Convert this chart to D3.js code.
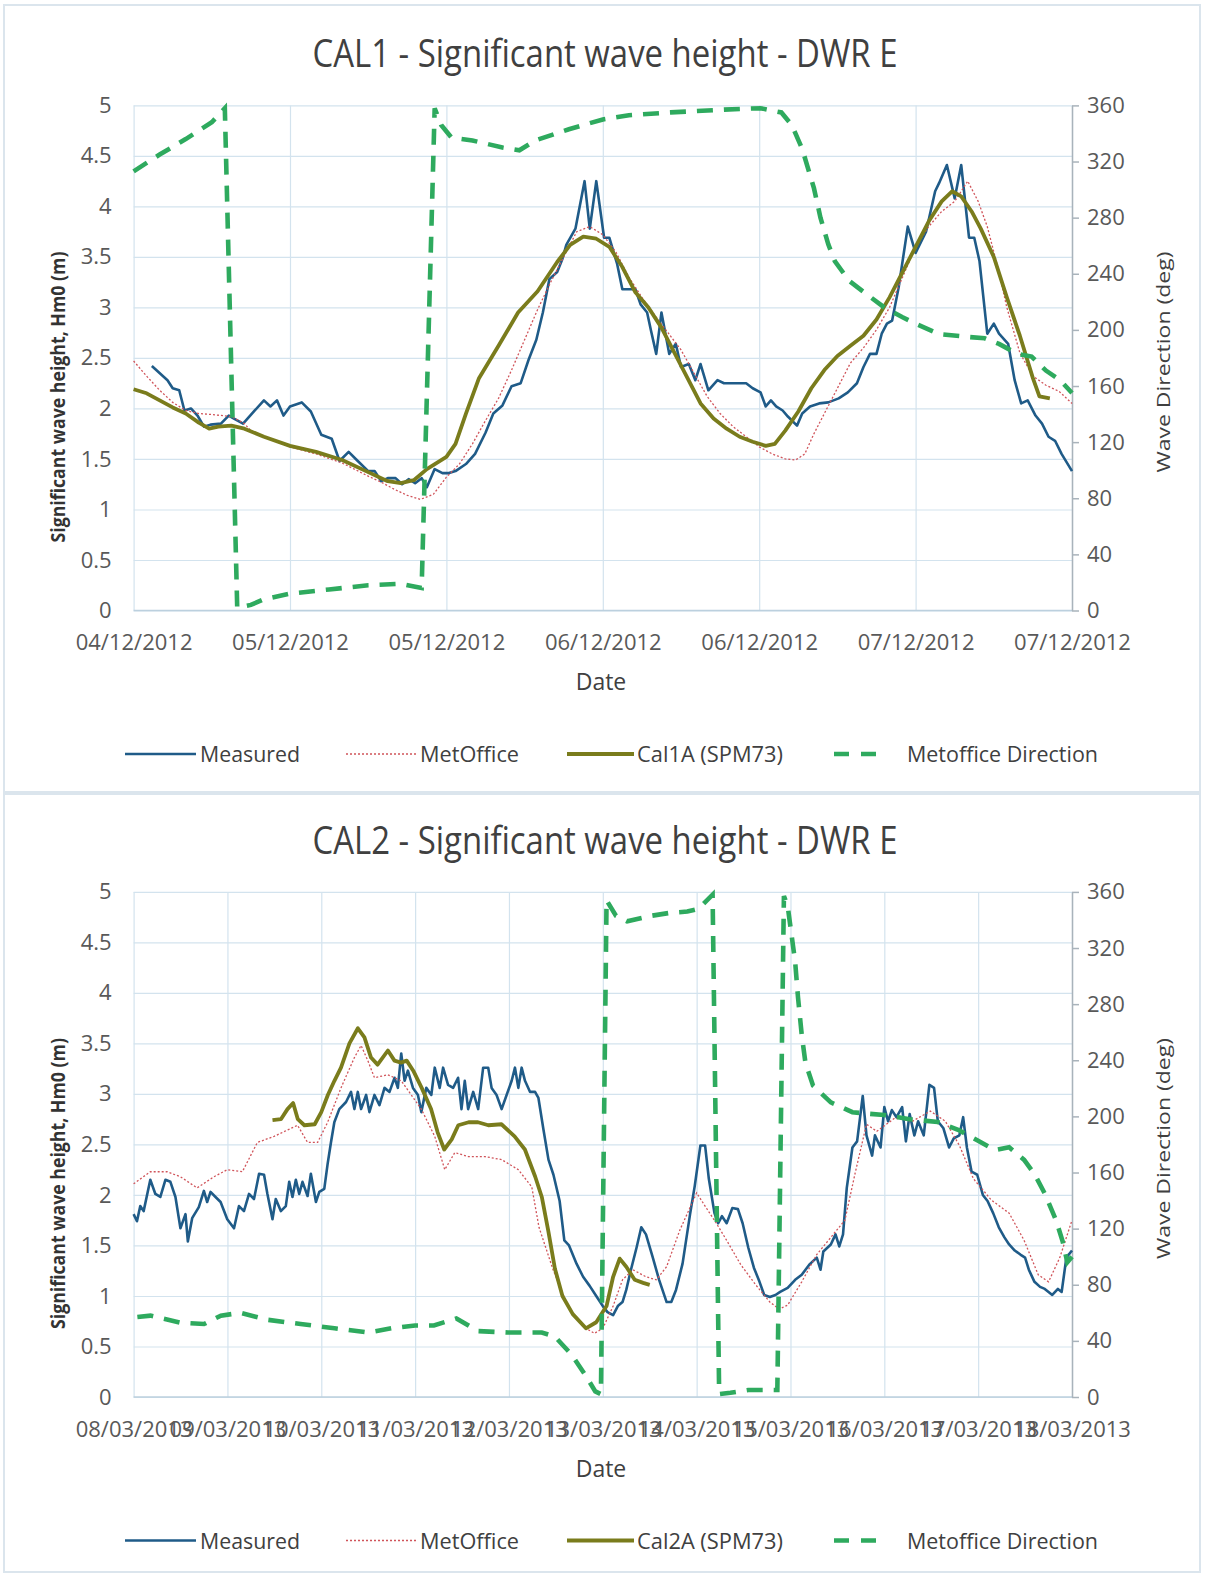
<!DOCTYPE html>
<html><head><meta charset="utf-8">
<script src="https://cdn.jsdelivr.net/npm/d3@7"></script>
<style>
body{margin:0;background:#fff}
svg{display:block}
text{font-family:'Open Sans',sans-serif}
</style>
</head><body>
<svg id="c" width="1205" height="1574"></svg>
<script>
// ---------- DATA ----------
const hmTicks = [0,0.5,1,1.5,2,2.5,3,3.5,4,4.5,5];
const hmLabels = ["0","0.5","1","1.5","2","2.5","3","3.5","4","4.5","5"];
const dirTicks = [0,40,80,120,160,200,240,280,320,360];
const dirLabels = ["0","40","80","120","160","200","240","280","320","360"];

// CAL1: x in hours from 04/12/2012 12:00
const cal1XTicks = [0,12,24,36,48,60,72];
const cal1XLabels = ["04/12/2012","05/12/2012","05/12/2012","06/12/2012","06/12/2012","07/12/2012","07/12/2012"];
const cal1Legend = ["Measured","MetOffice","Cal1A (SPM73)","Metoffice Direction"];
const cal1Measured = [[1.4,2.42],[2.6,2.28],[3.0,2.2],[3.5,2.18],[3.9,1.98],[4.4,2.0],[4.9,1.93],[5.4,1.82],[5.9,1.84],[6.7,1.85],[7.3,1.93],[7.7,1.9],[8.4,1.85],[9.3,1.98],[10.0,2.08],[10.5,2.02],[11.0,2.08],[11.5,1.93],[12.0,2.02],[12.9,2.06],[13.6,1.97],[14.4,1.74],[15.2,1.70],[15.8,1.48],[16.5,1.57],[17.2,1.48],[18.0,1.38],[18.5,1.38],[19.0,1.28],[19.5,1.31],[20.1,1.31],[20.6,1.25],[21.1,1.30],[21.6,1.26],[22.1,1.31],[22.5,1.22],[23.1,1.40],[23.7,1.36],[24.2,1.36],[24.7,1.38],[25.5,1.45],[26.2,1.55],[27.0,1.76],[27.6,1.95],[28.3,2.03],[29.0,2.22],[29.7,2.25],[30.3,2.48],[30.9,2.68],[31.4,2.95],[31.9,3.28],[32.5,3.35],[32.9,3.48],[33.2,3.62],[33.9,3.78],[34.6,4.25],[35.0,3.78],[35.5,4.25],[36.1,3.69],[36.5,3.69],[37.1,3.43],[37.5,3.18],[38.5,3.18],[38.9,3.03],[39.4,2.95],[39.7,2.77],[40.1,2.54],[40.5,2.95],[41.1,2.54],[41.6,2.64],[42.0,2.41],[42.6,2.44],[43.1,2.28],[43.5,2.44],[44.1,2.18],[44.8,2.28],[45.3,2.25],[47.0,2.25],[47.5,2.2],[48.1,2.16],[48.5,2.02],[48.9,2.08],[49.3,2.02],[49.8,1.98],[50.2,1.92],[50.9,1.83],[51.3,1.95],[51.9,2.02],[52.6,2.05],[53.3,2.06],[54.1,2.1],[54.8,2.16],[55.5,2.25],[56.0,2.41],[56.5,2.54],[57.0,2.54],[57.4,2.74],[57.8,2.84],[58.2,2.87],[58.7,3.2],[59.4,3.8],[60.0,3.54],[60.8,3.75],[61.5,4.15],[61.8,4.23],[62.4,4.41],[63.0,4.08],[63.5,4.41],[64.1,3.69],[64.5,3.69],[64.9,3.46],[65.5,2.74],[66.0,2.84],[66.4,2.74],[67.1,2.64],[67.6,2.28],[68.1,2.05],[68.6,2.08],[69.2,1.93],[69.7,1.85],[70.2,1.72],[70.7,1.68],[71.2,1.55],[72.0,1.38]];
const cal1MetOffice = [[0,2.47],[1,2.32],[2,2.18],[3,2.06],[4,1.98],[5,1.95],[6,1.94],[7.5,1.92],[8.5,1.85],[9,1.78],[10,1.72],[12,1.62],[14,1.55],[16,1.46],[18,1.33],[19,1.27],[20,1.2],[21,1.14],[22,1.1],[23,1.15],[24,1.32],[25,1.45],[26,1.65],[27,1.88],[28,2.1],[29,2.38],[30,2.68],[31,2.98],[32,3.25],[33,3.5],[34,3.75],[35,3.8],[36,3.72],[37,3.55],[38,3.3],[39,3.1],[40,2.92],[41,2.75],[42,2.58],[43,2.35],[44,2.12],[45,1.95],[46,1.82],[47,1.72],[48,1.62],[49,1.55],[50,1.5],[50.8,1.49],[51.5,1.55],[52.2,1.75],[53,1.95],[54,2.2],[55,2.45],[56,2.6],[57,2.78],[58,3.0],[59,3.3],[60,3.6],[61,3.8],[62,3.95],[63,4.05],[64,4.25],[64.8,4.05],[65.5,3.8],[66.3,3.4],[67,3.0],[68,2.55],[69,2.32],[70,2.23],[71,2.17],[72,2.05]];
const cal1Model = [[0,2.19],[1,2.15],[2,2.08],[3,2.01],[4,1.95],[5,1.86],[5.8,1.8],[6.5,1.82],[7.5,1.83],[8.5,1.8],[10,1.72],[12,1.63],[14,1.57],[16,1.49],[18,1.37],[19.5,1.28],[20.5,1.26],[21.5,1.29],[22.5,1.40],[24,1.52],[24.7,1.65],[25.5,1.95],[26.5,2.3],[28,2.62],[29.5,2.95],[31,3.16],[32.5,3.45],[33.5,3.62],[34.5,3.70],[35.5,3.68],[36.5,3.6],[37.5,3.4],[38.5,3.15],[39.5,3.0],[40.5,2.8],[41.5,2.55],[42.5,2.3],[43.5,2.05],[44.5,1.9],[45.5,1.8],[46.5,1.72],[47.5,1.67],[48.5,1.63],[49.2,1.65],[50,1.78],[51,1.97],[52,2.2],[53,2.38],[54,2.52],[55,2.62],[56,2.72],[57,2.88],[58,3.1],[59,3.35],[60,3.6],[61,3.85],[62,4.05],[62.8,4.15],[63.5,4.1],[64.3,3.95],[65,3.78],[66,3.5],[67,3.1],[68,2.72],[69,2.3],[69.5,2.12],[70.3,2.1]];
const cal1Direction = [[0,313],[2,325],[4,336],[6,348],[7.0,358],[7.95,2],[9,4],[10,8],[12,12],[15,15],[18,18],[20.5,19],[22.1,16],[23.1,358],[23.6,346],[24.4,337],[26,335],[28.3,330],[29.6,328],[30.8,335],[33.4,343],[36,350],[38,353],[41.2,355],[45.3,357],[48.1,358],[49.7,355],[50.5,346],[51.3,329],[52.2,301],[52.7,280],[53.3,261],[53.8,249],[54.9,235],[56.3,225],[57.6,216],[59.0,209],[60.1,204],[61.8,197],[64.0,195],[65.3,194],[66.4,190],[67.8,183],[68.9,181],[70.0,171],[71.1,164],[72.0,155]];

// CAL2: x in days from 08/03/2013
const cal2XTicks = [0,1,2,3,4,5,6,7,8,9,10];
const cal2XLabels = ["08/03/2013","09/03/2013","10/03/2013","11/03/2013","12/03/2013","13/03/2013","14/03/2013","15/03/2013","16/03/2013","17/03/2013","18/03/2013"];
const cal2Legend = ["Measured","MetOffice","Cal2A (SPM73)","Metoffice Direction"];
const cal2Measured = [[0,1.81],[0.036,1.74],[0.071,1.89],[0.107,1.84],[0.178,2.15],[0.232,2.01],[0.285,1.98],[0.339,2.15],[0.392,2.13],[0.446,1.98],[0.499,1.67],[0.553,1.81],[0.578,1.54],[0.624,1.77],[0.695,1.88],[0.749,2.04],[0.784,1.93],[0.820,2.03],[0.873,1.98],[0.927,1.93],[0.998,1.76],[1.070,1.67],[1.123,1.89],[1.176,1.84],[1.230,2.01],[1.283,1.96],[1.337,2.21],[1.390,2.20],[1.426,2.01],[1.480,1.76],[1.515,1.96],[1.569,1.84],[1.622,1.89],[1.658,2.13],[1.693,1.98],[1.729,2.15],[1.765,2.01],[1.800,2.13],[1.854,1.99],[1.889,2.21],[1.943,1.93],[1.979,2.03],[2.032,2.06],[2.068,2.31],[2.103,2.52],[2.139,2.72],[2.192,2.85],[2.264,2.92],[2.317,3.02],[2.353,2.85],[2.389,3.02],[2.424,2.85],[2.478,2.99],[2.513,2.82],[2.567,2.99],[2.620,2.89],[2.674,3.06],[2.727,3.02],[2.781,3.16],[2.816,3.06],[2.852,3.40],[2.888,3.13],[2.923,3.23],[2.977,3.06],[3.030,2.99],[3.066,2.82],[3.119,3.06],[3.173,2.99],[3.209,3.26],[3.262,3.06],[3.298,3.26],[3.351,3.09],[3.405,3.06],[3.458,3.16],[3.494,2.85],[3.529,3.13],[3.565,2.85],[3.619,3.02],[3.672,2.85],[3.725,3.26],[3.779,3.26],[3.815,3.06],[3.868,2.99],[3.922,2.85],[3.975,2.99],[4.029,3.13],[4.064,3.26],[4.100,3.06],[4.135,3.26],[4.171,3.13],[4.225,3.02],[4.278,3.02],[4.314,2.96],[4.367,2.65],[4.421,2.35],[4.474,2.2],[4.54,1.94],[4.59,1.55],[4.64,1.5],[4.72,1.32],[4.79,1.19],[4.86,1.1],[4.93,1.0],[5.0,0.9],[5.05,0.84],[5.11,0.81],[5.16,0.9],[5.21,0.94],[5.25,1.06],[5.30,1.26],[5.36,1.48],[5.41,1.68],[5.46,1.61],[5.53,1.39],[5.60,1.16],[5.68,0.94],[5.73,0.94],[5.78,1.06],[5.85,1.32],[5.93,1.81],[5.98,2.09],[6.04,2.49],[6.09,2.49],[6.13,2.16],[6.19,1.82],[6.23,1.72],[6.27,1.79],[6.32,1.72],[6.38,1.87],[6.44,1.86],[6.49,1.72],[6.55,1.48],[6.61,1.28],[6.67,1.14],[6.72,1.01],[6.78,0.99],[6.84,1.01],[6.89,1.04],[6.97,1.08],[7.05,1.16],[7.12,1.21],[7.20,1.31],[7.28,1.38],[7.32,1.26],[7.35,1.44],[7.43,1.51],[7.48,1.61],[7.52,1.49],[7.56,1.61],[7.60,2.07],[7.66,2.47],[7.71,2.53],[7.77,2.98],[7.81,2.59],[7.87,2.39],[7.90,2.59],[7.96,2.47],[8.0,2.87],[8.04,2.73],[8.08,2.84],[8.13,2.77],[8.19,2.87],[8.23,2.53],[8.27,2.80],[8.32,2.59],[8.36,2.73],[8.42,2.59],[8.48,3.09],[8.53,3.06],[8.57,2.73],[8.63,2.66],[8.69,2.47],[8.74,2.56],[8.80,2.59],[8.84,2.77],[8.88,2.47],[8.93,2.23],[8.99,2.20],[9.05,2.00],[9.10,1.94],[9.16,1.82],[9.22,1.68],[9.28,1.58],[9.33,1.51],[9.39,1.45],[9.45,1.41],[9.50,1.38],[9.54,1.26],[9.60,1.14],[9.66,1.09],[9.71,1.07],[9.79,1.01],[9.85,1.07],[9.89,1.04],[9.94,1.38],[10.0,1.45]];
const cal2MetOffice = [[0,2.11],[0.178,2.23],[0.357,2.23],[0.499,2.18],[0.677,2.07],[0.856,2.18],[0.998,2.25],[1.159,2.23],[1.319,2.52],[1.497,2.58],[1.747,2.69],[1.854,2.52],[1.961,2.52],[2.068,2.72],[2.210,3.06],[2.353,3.36],[2.424,3.48],[2.496,3.33],[2.567,3.16],[2.709,3.19],[2.852,3.13],[3.066,2.85],[3.209,2.58],[3.316,2.25],[3.423,2.42],[3.565,2.38],[3.743,2.38],[3.922,2.35],[4.100,2.25],[4.243,2.08],[4.32,1.68],[4.47,1.26],[4.64,0.87],[4.82,0.68],[4.91,0.63],[5.0,0.68],[5.11,0.9],[5.21,1.16],[5.32,1.26],[5.46,1.19],[5.57,1.16],[5.68,1.29],[5.82,1.65],[6.0,2.02],[6.09,1.89],[6.21,1.72],[6.32,1.55],[6.47,1.31],[6.63,1.11],[6.78,0.94],[6.88,0.87],[6.97,0.91],[7.12,1.14],[7.28,1.41],[7.43,1.58],[7.58,1.75],[7.69,2.22],[7.81,2.70],[7.92,2.63],[8.11,2.76],[8.30,2.73],[8.49,2.83],[8.65,2.73],[8.80,2.49],[8.95,2.16],[9.14,1.95],[9.33,1.82],[9.49,1.55],[9.64,1.21],[9.75,1.14],[9.87,1.38],[10.0,1.75]];
const cal2Model = [[1.48,2.74],[1.57,2.75],[1.64,2.85],[1.70,2.91],[1.75,2.75],[1.82,2.69],[1.93,2.70],[2.0,2.82],[2.07,2.99],[2.14,3.13],[2.21,3.26],[2.30,3.50],[2.39,3.65],[2.46,3.56],[2.53,3.36],[2.60,3.29],[2.71,3.43],[2.78,3.33],[2.85,3.31],[2.91,3.33],[2.98,3.23],[3.07,3.06],[3.17,2.85],[3.24,2.62],[3.31,2.45],[3.39,2.55],[3.46,2.69],[3.57,2.72],[3.67,2.72],[3.78,2.69],[3.92,2.70],[4.06,2.58],[4.17,2.45],[4.28,2.18],[4.35,1.98],[4.42,1.64],[4.49,1.27],[4.57,1.0],[4.68,0.82],[4.82,0.68],[4.93,0.74],[5.04,0.90],[5.11,1.19],[5.18,1.37],[5.25,1.29],[5.34,1.16],[5.43,1.13],[5.50,1.11]];
const cal2Direction = [[0.04,57],[0.18,58],[0.5,53],[0.75,52],[0.93,58],[1.14,60],[1.43,55],[1.78,52],[2.14,49],[2.5,46],[2.75,49],[3.0,51],[3.2,51],[3.44,56],[3.67,47],[3.99,46],[4.35,46],[4.49,43],[4.67,30],[4.81,16],[4.92,4],[4.98,2],[5.04,354],[5.14,343],[5.26,339],[5.52,343],[5.71,345],[5.9,346],[6.02,348],[6.17,358],[6.24,2],[6.36,3],[6.55,5],[6.86,5],[6.93,357],[6.97,350],[7.01,330],[7.05,310],[7.08,285],[7.12,258],[7.16,238],[7.24,222],[7.43,210],[7.66,203],[7.81,202],[8.0,201],[8.27,198],[8.57,196],[8.8,190],[8.99,183],[9.18,176],[9.33,178],[9.49,169],[9.6,159],[9.71,145],[9.83,126],[9.9,111],[9.95,96],[10.0,100]];

// ---------- DRAW ----------
const svg = d3.select("#c");
const L = 133.6, R = 1072, T = 105.4, B = 610.5;
const C_MEAS = "#1f5b88", C_MET = "#d0545a", C_CAL = "#7a7c1c", C_DIR = "#2eaa5e";
const GRID = "#d3e3ee";

function panel(o) {
  const g = svg.append("g").attr("transform", `translate(0,${o.dy})`);
  g.append("rect").attr("x", 4).attr("y", o.boxY).attr("width", 1196).attr("height", o.boxH)
    .attr("fill", "#fff").attr("stroke", "#dbe5ed").attr("stroke-width", 2);

  const x = d3.scaleLinear().domain([0, o.xMax]).range([L, R]);
  const y = d3.scaleLinear().domain([0, 5]).range([B, T]);
  const yr = d3.scaleLinear().domain([0, 360]).range([B, T]);

  // horizontal grid
  const hg = g.append("g").attr("transform", `translate(${L},0)`)
    .call(d3.axisLeft(y).tickValues(hmTicks).tickSize(-(R - L)).tickFormat(""));
  hg.select(".domain").remove();
  hg.selectAll("line").attr("stroke", GRID).attr("stroke-width", 1.2);
  // vertical grid
  const vg = g.append("g").attr("transform", `translate(0,${B})`)
    .call(d3.axisBottom(x).tickValues(o.xTicks).tickSize(-(B - T)).tickFormat(""));
  vg.select(".domain").remove();
  vg.selectAll("line").attr("stroke", GRID).attr("stroke-width", 1.2);
  // bottom axis line
  g.append("line").attr("x1", L).attr("x2", R).attr("y1", B).attr("y2", B)
    .attr("stroke", "#bcd0de").attr("stroke-width", 1.5);

  // left labels
  const la = g.append("g").attr("transform", `translate(${L},0)`)
    .call(d3.axisLeft(y).tickValues(hmTicks).tickFormat((d, i) => hmLabels[i]).tickSize(0).tickPadding(22));
  la.select(".domain").remove();
  la.attr("font-size", null).attr("font-family", null);
  la.selectAll("text").attr("font-size", 22).attr("fill", "#595959");

  // x labels
  const xa = g.append("g").attr("transform", `translate(0,${B})`)
    .call(d3.axisBottom(x).tickValues(o.xTicks).tickFormat((d, i) => o.xLabels[i]).tickSize(0).tickPadding(24));
  xa.select(".domain").remove();
  xa.attr("font-size", null).attr("font-family", null);
  xa.selectAll("text").attr("font-size", 22).attr("fill", "#595959");

  // right axis
  const ra = g.append("g").attr("transform", `translate(${R},0)`)
    .call(d3.axisRight(yr).tickValues(dirTicks).tickFormat((d, i) => dirLabels[i]).tickSize(7).tickSizeOuter(0).tickPadding(8));
  ra.attr("font-size", null).attr("font-family", null);
  ra.select(".domain").attr("stroke", "#a9b3bb").attr("stroke-width", 1.5);
  ra.selectAll("line").attr("stroke", "#a9b3bb").attr("stroke-width", 1.5);
  ra.selectAll("text").attr("font-size", 22).attr("fill", "#595959");

  // series
  const lh = d3.line().x(d => x(d[0])).y(d => y(d[1]));
  const ld = d3.line().x(d => x(d[0])).y(d => yr(d[1]));
  g.append("path").attr("d", lh(o.measured)).attr("fill", "none").attr("stroke", C_MEAS)
    .attr("stroke-width", 2.6).attr("stroke-linejoin", "round");
  g.append("path").attr("d", lh(o.met)).attr("fill", "none").attr("stroke", C_MET)
    .attr("stroke-width", 1.3).attr("stroke-dasharray", "2,2");
  g.append("path").attr("d", lh(o.model)).attr("fill", "none").attr("stroke", C_CAL)
    .attr("stroke-width", 3.8).attr("stroke-linejoin", "round");
  g.append("path").attr("d", ld(o.dir)).attr("fill", "none").attr("stroke", C_DIR)
    .attr("stroke-width", 4.6).attr("stroke-dasharray", "16,11");

  // title
  g.append("text").attr("x", 605).attr("y", 67).attr("text-anchor", "middle")
    .attr("font-size", 38).attr("fill", "#404040")
    .attr("textLength", 585).attr("lengthAdjust", "spacingAndGlyphs").text(o.title);
  // Date
  g.append("text").attr("x", 601).attr("y", 690).attr("text-anchor", "middle")
    .attr("font-size", 23).attr("fill", "#404040").text("Date");
  // left axis title
  g.append("text").attr("transform", "translate(65,397) rotate(-90)").attr("text-anchor", "middle")
    .attr("font-size", 19).attr("font-weight", "bold").attr("fill", "#333")
    .attr("textLength", 291).attr("lengthAdjust", "spacingAndGlyphs")
    .text("Significant wave height, Hm0 (m)");
  // right axis title
  g.append("text").attr("transform", "translate(1170,362) rotate(-90)").attr("text-anchor", "middle")
    .attr("font-size", 19).attr("fill", "#404040")
    .attr("textLength", 221).attr("lengthAdjust", "spacingAndGlyphs")
    .text("Wave Direction (deg)");

  // legend
  const ly = 754;
  const items = [
    {x1: 125, x2: 196, tx: 200, tw: 100, c: C_MEAS, w: 2.6, da: null},
    {x1: 346, x2: 416, tx: 420, tw: 99, c: C_MET, w: 1.3, da: "2,2"},
    {x1: 567, x2: 634, tx: 637, tw: 146, c: C_CAL, w: 3.8, da: null},
    {x1: 834, x2: 879, tx: 907, tw: 191, c: C_DIR, w: 4.6, da: "15,12"}
  ];
  items.forEach((it, i) => {
    const ln = g.append("line").attr("x1", it.x1).attr("x2", it.x2).attr("y1", ly).attr("y2", ly)
      .attr("stroke", it.c).attr("stroke-width", it.w);
    if (it.da) ln.attr("stroke-dasharray", it.da);
    g.append("text").attr("x", it.tx).attr("y", ly + 8).attr("font-size", 21).attr("fill", "#404040")
      .attr("textLength", it.tw).attr("lengthAdjust", "spacingAndGlyphs").text(o.legend[i]);
  });
}

panel({dy: 0, boxY: 5, boxH: 787, title: "CAL1 - Significant wave height - DWR E", xMax: 72,
  xTicks: cal1XTicks, xLabels: cal1XLabels, measured: cal1Measured, met: cal1MetOffice,
  model: cal1Model, dir: cal1Direction, legend: cal1Legend});
panel({dy: 786.5, boxY: 7.5, boxH: 778, title: "CAL2 - Significant wave height - DWR E", xMax: 10,
  xTicks: cal2XTicks, xLabels: cal2XLabels, measured: cal2Measured, met: cal2MetOffice,
  model: cal2Model, dir: cal2Direction, legend: cal2Legend});
</script>
</body></html>
